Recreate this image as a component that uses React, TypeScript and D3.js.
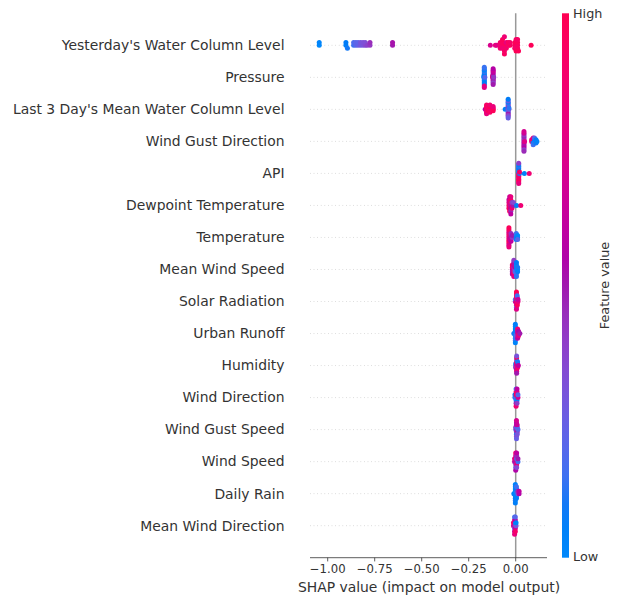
import React from "react";
import * as d3 from "d3";

type Group = [number, number[]];

const features: string[] = [
  "Yesterday's Water Column Level",
  "Pressure",
  "Last 3 Day's Mean Water Column Level",
  "Wind Gust Direction",
  "API",
  "Dewpoint Temperature",
  "Temperature",
  "Mean Wind Speed",
  "Solar Radiation",
  "Urban Runoff",
  "Humidity",
  "Wind Direction",
  "Wind Gust Speed",
  "Wind Speed",
  "Daily Rain",
  "Mean Wind Direction",
];

// Each group: [SHAP value, feature values (0 = low, 1 = high) of points sharing it]
const yesterdayWCL: Group[] = [
  [-1.045, [0.0, 0.02]],
  [-0.903, [0.05, 0.08]],
  [-0.895, [0.1]],
  [-0.862, [0.15, 0.18]],
  [-0.85, [0.2, 0.22]],
  [-0.838, [0.25, 0.22]],
  [-0.825, [0.28, 0.3]],
  [-0.812, [0.3, 0.32]],
  [-0.8, [0.35, 0.33]],
  [-0.79, [0.38]],
  [-0.775, [0.42, 0.45]],
  [-0.655, [0.5, 0.52]],
  [-0.135, [0.72]],
  [-0.108, [0.8]],
  [-0.1, [0.76]],
  [-0.082, [0.85, 0.9, 0.88]],
  [-0.07, [0.92, 0.95, 0.86, 0.97]],
  [-0.06, [0.9, 0.85, 0.93]],
  [-0.05, [0.96, 0.8, 0.9]],
  [-0.04, [0.88, 0.94]],
  [-0.03, [0.95, 0.9]],
  [-0.005, [0.92, 0.97, 0.9]],
  [0.002, [0.95, 0.98, 0.88, 0.93, 0.99]],
  [0.01, [0.9, 0.96, 0.94, 0.92]],
  [0.015, [0.97]],
  [0.082, [0.98]],
];
const pressure: Group[] = [
  [-0.169, [0.05, 0.02]],
  [-0.167, [0.1, 0.0, 0.04, 0.08, 0.12, 0.06, 0.03, 0.15, 0.09, 0.01, 0.07, 0.11, 0.8, 0.14, 0.75]],
  [-0.164, [0.2]],
  [-0.123, [0.95, 0.9]],
  [-0.12, [0.5, 0.55, 0.6, 0.45, 0.52, 0.58, 0.48, 0.62, 0.4, 0.65, 0.5, 0.57]],
  [-0.117, [0.42]],
];
const last3DayWCL: Group[] = [
  [-0.162, [0.55]],
  [-0.155, [0.95, 0.9, 0.85, 0.98, 0.88, 0.92, 0.8]],
  [-0.146, [0.93, 0.87, 0.97]],
  [-0.137, [0.9, 0.96, 0.84, 0.99, 0.91, 0.86]],
  [-0.12, [0.94, 0.89, 0.97, 0.82]],
  [-0.056, [0.05]],
  [-0.04, [0.35, 0.4, 0.3, 0.45, 0.2, 0.38, 0.5, 0.15, 0.42, 0.1, 0.33, 0.28, 0.25, 0.08]],
  [-0.036, [0.3, 0.12]],
];
const windGustDirection: Group[] = [
  [0.044, [0.45, 0.5, 0.55, 0.4, 0.6, 0.48, 0.52, 0.42, 0.58, 0.65, 0.38, 0.7, 0.46]],
  [0.047, [0.75]],
  [0.085, [0.8, 0.85]],
  [0.093, [0.1, 0.9, 0.05, 0.75, 0.15]],
  [0.1, [0.0, 0.08, 0.12, 0.2]],
  [0.108, [0.02, 0.06, 0.1]],
  [0.113, [0.04]],
];
const api: Group[] = [
  [0.016, [0.6, 0.05, 0.9, 0.1, 0.95, 0.02, 0.85, 0.08, 0.92, 0.12, 0.88, 0.03, 0.97, 0.4, 0.8]],
  [0.02, [0.1, 0.9]],
  [0.046, [0.05]],
  [0.072, [0.85]],
];
const dewpoint: Group[] = [
  [-0.036, [0.9, 0.8, 0.95, 0.6]],
  [-0.032, [0.85, 0.7, 0.92, 0.75, 0.98, 0.65]],
  [-0.026, [0.5, 0.88, 0.55, 0.9, 0.45, 0.8, 0.6]],
  [-0.02, [0.7, 0.4, 0.85]],
  [-0.012, [0.5, 0.35]],
  [0.005, [0.05]],
  [0.027, [0.85]],
];
const temperature: Group[] = [
  [-0.036, [0.9, 0.85, 0.95, 0.8, 0.98, 0.75, 0.92, 0.88, 0.7, 0.96, 0.82]],
  [-0.031, [0.6, 0.9, 0.65]],
  [-0.025, [0.55, 0.5, 0.7, 0.45, 0.6]],
  [-0.018, [0.4, 0.5]],
  [0.003, [0.05, 0.1, 0.02, 0.15]],
  [0.01, [0.08, 0.0, 0.2]],
];
const meanWindSpeed: Group[] = [
  [-0.018, [0.6, 0.85, 0.5, 0.9, 0.55]],
  [-0.01, [0.7, 0.45, 0.8, 0.65, 0.92, 0.5, 0.75, 0.4]],
  [-0.004, [0.3, 0.6, 0.2, 0.5]],
  [0.004, [0.1, 0.05, 0.15, 0.02, 0.2, 0.08, 0.12]],
  [0.01, [0.0, 0.1, 0.04]],
];
const solarRadiation: Group[] = [
  [-0.002, [0.7, 0.2]],
  [0.004, [0.85, 0.9, 0.6, 0.95, 0.8, 0.88, 0.3, 0.92, 0.75, 0.98]],
  [0.008, [0.9, 0.1, 0.85, 0.7, 0.95, 0.15]],
  [0.012, [0.8, 0.65]],
];
const urbanRunoff: Group[] = [
  [-0.01, [0.1]],
  [-0.002, [0.05, 0.1, 0.0, 0.08, 0.12, 0.02, 0.15, 0.06, 0.03]],
  [0.003, [0.2, 0.1, 0.25, 0.05]],
  [0.01, [0.5, 0.7, 0.45, 0.85, 0.6]],
  [0.015, [0.9, 0.55, 0.8]],
  [0.022, [0.5]],
];
const humidity: Group[] = [
  [0.0, [0.3, 0.1, 0.5]],
  [0.005, [0.7, 0.85, 0.4, 0.9, 0.6, 0.2, 0.8, 0.95, 0.5, 0.3]],
  [0.01, [0.75, 0.65, 0.88, 0.1]],
  [0.014, [0.6]],
];
const windDirection: Group[] = [
  [-0.004, [0.1, 0.05]],
  [0.002, [0.3, 0.9, 0.15, 0.95, 0.5, 0.2, 0.85]],
  [0.007, [0.1, 0.92, 0.05, 0.8, 0.4, 0.6]],
  [0.012, [0.7, 0.2]],
];
const windGustSpeed: Group[] = [
  [0.0, [0.2, 0.4]],
  [0.004, [0.5, 0.3, 0.45, 0.6, 0.1, 0.55, 0.35, 0.7, 0.25]],
  [0.008, [0.4, 0.15, 0.5, 0.65, 0.3]],
  [0.012, [0.2]],
];
const windSpeed: Group[] = [
  [-0.006, [0.6, 0.75]],
  [0.0, [0.5, 0.85, 0.4, 0.7, 0.3, 0.9, 0.55]],
  [0.005, [0.65, 0.2, 0.8, 0.45, 0.35, 0.6]],
  [0.012, [0.15, 0.5]],
];
const dailyRain: Group[] = [
  [-0.01, [0.05]],
  [-0.002, [0.02, 0.0, 0.05, 0.03, 0.08, 0.01, 0.1, 0.04, 0.06]],
  [0.004, [0.0, 0.12, 0.02, 0.07, 0.05, 0.15]],
  [0.012, [0.3, 0.45]],
  [0.018, [0.55, 0.6]],
];
const meanWindDirection: Group[] = [
  [-0.012, [0.7, 0.85]],
  [-0.006, [0.5, 0.9, 0.3, 0.75, 0.6, 0.15, 0.8]],
  [-0.002, [0.4, 0.1, 0.65, 0.55, 0.9, 0.2]],
  [0.002, [0.3, 0.05]],
];

const seriesList: Group[][] = [
  yesterdayWCL, pressure, last3DayWCL, windGustDirection, api, dewpoint,
  temperature, meanWindSpeed, solarRadiation, urbanRunoff, humidity,
  windDirection, windGustSpeed, windSpeed, dailyRain, meanWindDirection,
];

const xTicks: number[] = [-1.0, -0.75, -0.5, -0.25, 0.0];

// SHAP red_blue colormap (LCH interpolation)
function shapColor(t: number): string {
  const l = t < 0.5 ? 54 + (40 - 54) * (t / 0.5) : 40 + (54 - 40) * ((t - 0.5) / 0.5);
  const c = 70 + (90 - 70) * t;
  const hBlue = (4.6588 * 180) / Math.PI;
  const hRed = ((0.35470565 + 2 * Math.PI) * 180) / Math.PI;
  const h = hBlue + (hRed - hBlue) * t;
  const rgb = d3.hcl(h, c, l).rgb();
  const cl = (v: number) => Math.max(0, Math.min(255, Math.round(v)));
  return d3.rgb(cl(rgb.r), cl(rgb.g), cl(rgb.b)).formatHex();
}

interface Pt { v: number; c: number; dy: number; }

function swarm(groups: Group[]): Pt[] {
  const pts: { v: number; c: number }[] = [];
  groups.forEach(([v, cs]) => cs.forEach((c) => pts.push({ v, c })));
  const vals = pts.map((p) => p.v);
  const mn = d3.min(vals) as number;
  const mx = d3.max(vals) as number;
  const quant = vals.map((v) => Math.round((100 * (v - mn)) / (mx - mn + 1e-8)));
  const inds = d3.range(pts.length).sort((a, b) => quant[a] - quant[b] || a - b);
  const ys = new Array(pts.length).fill(0);
  let layer = 0;
  let last = -1;
  for (const ind of inds) {
    if (quant[ind] !== last) layer = 0;
    ys[ind] = Math.ceil(layer / 2) * ((layer % 2) * 2 - 1);
    layer++;
    last = quant[ind];
  }
  const m = d3.max(ys.map((y) => y + 1)) as number;
  return pts.map((p, i) => ({ v: p.v, c: p.c, dy: ys[i] * 0.9 * (0.4 / m) }));
}

export default function App() {
  const W = 619;
  const H = 596;
  const left = 310;
  const right = 547;
  const n = features.length;
  const x = d3.scaleLinear().domain([-1.0941, 0.1665]).range([left, right]);
  // y position in "row units": top feature at n-1, bottom at 0
  const y = d3.scaleLinear().domain([-1, n]).range([557.7, 13.3]);
  const font = "DejaVu Sans, sans-serif";
  const axisColor = "#333333";
  const gradStops = d3.range(0, 1.0001, 0.05);

  return (
    <svg width={W} height={H} style={{ position: "absolute", left: 0, top: 0, background: "#fff" }} fontFamily={font}>
      <defs>
        <linearGradient id="cbar" x1="0" y1="1" x2="0" y2="0">
          {gradStops.map((t, i) => (
            <stop key={i} offset={t} stopColor={shapColor(t)} />
          ))}
        </linearGradient>
      </defs>
      {/* grid lines */}
      {features.map((f, i) => (
        <line key={"g" + i} x1={left} x2={right} y1={y(n - 1 - i)} y2={y(n - 1 - i)}
          stroke="#cccccc" strokeWidth={0.8} strokeDasharray="0.8 2.8" />
      ))}
      {/* zero line */}
      <line x1={x(0)} x2={x(0)} y1={y(n)} y2={y(-1)} stroke="#999999" strokeWidth={1.5} />
      {/* points */}
      {seriesList.map((groups, i) => {
        const pos = n - 1 - i;
        return swarm(groups).map((p, j) => (
          <circle key={i + "-" + j} cx={x(p.v)} cy={y(pos + p.dy)} r={2.5} fill={shapColor(p.c)} />
        ));
      })}
      {/* feature labels */}
      {features.map((f, i) => (
        <text key={"l" + i} x={284.5} y={y(n - 1 - i)} dy="0.35em" textAnchor="end" fontSize={13.9} fill={axisColor}>
          {f}
        </text>
      ))}
      {/* x axis */}
      <line x1={left} x2={right} y1={557.7} y2={557.7} stroke={axisColor} strokeWidth={0.8} />
      {xTicks.map((t, i) => (
        <g key={"t" + i}>
          <line x1={x(t)} x2={x(t)} y1={557.7} y2={561.4} stroke={axisColor} strokeWidth={0.8} />
          <text x={x(t)} y={569} dy="0.35em" textAnchor="middle" fontSize={11.7} fill={axisColor}>
            {d3.format(".2f")(t).replace("-", "\u2212")}
          </text>
        </g>
      ))}
      <text x={(left + right) / 2 + 0.5} y={587} dy="0.35em" textAnchor="middle" fontSize={13.9} fill={axisColor}>
        SHAP value (impact on model output)
      </text>
      {/* colorbar */}
      <rect x={562} y={13.3} width={7} height={557.7 - 13.3} fill="url(#cbar)" />
      <text x={573} y={14} dy="0.35em" fontSize={12.8} fill={axisColor}>High</text>
      <text x={573} y={557} dy="0.35em" fontSize={12.8} fill={axisColor}>Low</text>
      <text transform={`translate(605, ${(13.3 + 557.7) / 2}) rotate(-90)`} textAnchor="middle" dy="0.35em"
        fontSize={12.8} fill={axisColor}>
        Feature value
      </text>
    </svg>
  );
}
